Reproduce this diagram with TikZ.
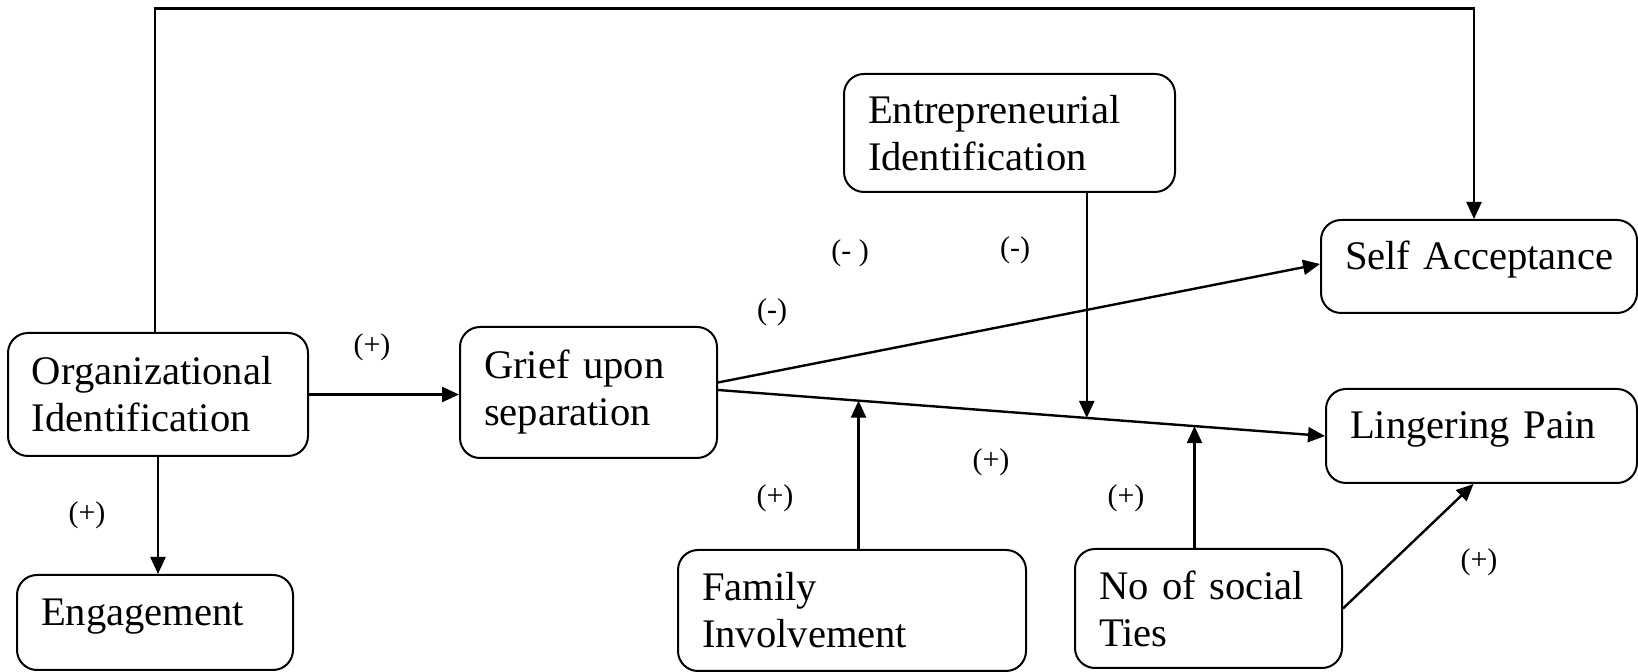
\documentclass[tikz,border=0pt]{standalone}
\usepackage{fontspec}
\setmainfont{Liberation Serif}
\usetikzlibrary{arrows.meta}
\begin{document}
\begin{tikzpicture}
[x=0.5pt, y=-0.5pt,
 box/.style={draw, line width=1pt, rounded corners=10pt, align=left, inner xsep=12pt,
   font=\fontsize{20.3}{23.5}\selectfont},
 single/.style={text height=14pt, text depth=11pt},
 sign/.style={font=\fontsize{15}{18}\selectfont, inner sep=0pt},
 link/.style={->, line width=1.2pt},
 >={Triangle[length=8.5pt, width=7.5pt]}]
\useasboundingbox (0,0) rectangle (1638,672);

\node (Org) at (158,394.5) [box, text width=126pt, minimum height=61.5pt] {Organizational\\Identification};
\node (Eng) at (155,622.5) [box, single, text width=114pt, minimum height=47.5pt] {Engagement};
\node (Grief) at (588.5,392.5) [box, text width=104.5pt, minimum height=65.5pt] {Grief upon\\separation};
\node (Ent) at (1009.5,133) [box, text width=141.5pt, minimum height=59pt] {Entrepreneurial\\Identification};
\node (Self) at (1479,266.5) [box, single, text width=134pt, minimum height=46.5pt] {\mbox{Self Acceptance}};
\node (Ling) at (1481.5,436) [box, single, text width=131.5pt, minimum height=47pt] {\mbox{Lingering Pain}};
\node (Fam) at (852,610.5) [box, text width=150pt, minimum height=60.5pt] {Family\\Involvement};
\node (Ties) at (1208.5,608.5) [box, text width=109.5pt, minimum height=59.5pt] {No of social\\Ties};

\coordinate (top) at (0,8.5);
\draw[link] ([xshift=-1.5pt]Org.north) -- ([xshift=-1.5pt]Org.north |- top) -| ([xshift=-2.5pt]Self.north);
\draw[link] (Org.east) -- (Org.east -| Grief.west);
\draw[link] (Org.south) -- (Org.south |- Eng.north);
\draw[link] ([yshift=5pt]Grief.east) -- ([yshift=1.25pt]Self.west);
\draw[link] ([yshift=1.25pt]Grief.east) -- coordinate[pos=.2315] (mFam)
  coordinate[pos=.6075] (mEnt) coordinate[pos=.785] (mTie) (Ling.west);
\draw[link] (Ent.south -| mEnt) -- (mEnt);
\draw[link] (Fam.north -| mFam) -- (mFam);
\draw[link] (Ties.north -| mTie) -- (mTie);
\draw[link] (Ties.east) -- ([xshift=-4pt]Ling.south);

\node (sOG) at (372,347) [sign] {(+)};
\node (sOE) at (87,515) [sign] {(+)};
\node (sGS1) at (850,253) [sign] {(- )};
\node (sEnt) at (1015,250) [sign] {(-)};
\node (sGS2) at (772,312) [sign] {(-)};
\node (sGL) at (991,462) [sign] {(+)};
\node (sFam) at (775,498) [sign] {(+)};
\node (sTie) at (1126,498) [sign] {(+)};
\node (sTL) at (1479,562) [sign] {(+)};
\end{tikzpicture}
\end{document}
